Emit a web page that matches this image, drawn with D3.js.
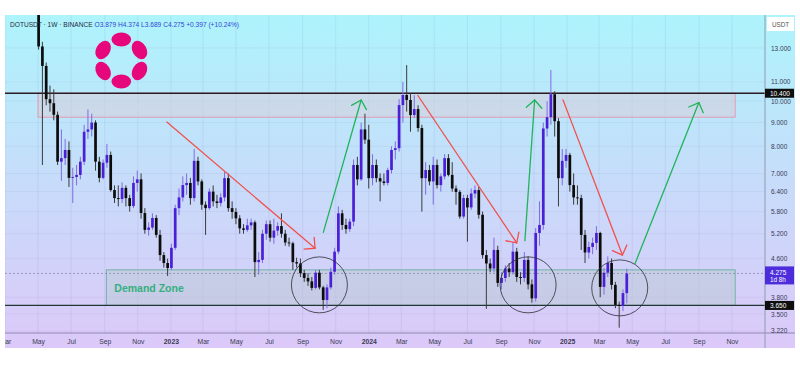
<!DOCTYPE html>
<html>
<head>
<meta charset="utf-8">
<script src="https://cdn.jsdelivr.net/npm/d3@7"></script>
<style>
  html, body { margin: 0; padding: 0; background: #fff; }
  svg { display: block; font-family: "Liberation Sans", Arial, sans-serif; }
</style>
</head>
<body>
<script>
// weekly DOTUSDT candles, first row = week of 2022-05-02
// each row: [open, high, low, close]
var firstWeek = "2022-05-02";
var candles = [
  [15.9, 16.4, 12.9, 13.1], [13.1, 13.4, 7.3, 11.9], [11.9, 12.1, 9.8, 10.1], [10.1, 10.8, 9.5, 9.9],
  [9.9, 10.6, 9.1, 9.35], [9.35, 9.5, 7.3, 7.42], [7.42, 8.7, 6.75, 7.55], [7.55, 8.3, 7.3, 7.86],
  [7.86, 8.2, 6.55, 6.85], [6.85, 7.2, 6.05, 6.88], [6.88, 7.3, 6.6, 6.95], [6.95, 7.6, 6.8, 7.42],
  [7.42, 8.9, 7.3, 8.6], [8.6, 9.6, 8.3, 8.7], [8.7, 9.4, 8.4, 9.0], [9.0, 9.1, 7.1, 7.42],
  [7.42, 7.6, 6.7, 6.85], [6.85, 7.5, 6.8, 7.38], [7.38, 8.1, 7.2, 7.67], [7.67, 7.8, 6.4, 6.45],
  [6.45, 6.6, 6.05, 6.2], [6.2, 6.6, 5.95, 6.17], [6.17, 6.7, 6.05, 6.52], [6.52, 6.6, 5.95, 6.2],
  [6.2, 6.3, 5.8, 5.96], [5.96, 6.9, 5.9, 6.68], [6.68, 7.1, 6.4, 6.8], [6.8, 7.0, 5.6, 5.76],
  [5.76, 5.9, 5.2, 5.3], [5.3, 5.5, 5.15, 5.36], [5.36, 5.75, 5.3, 5.62], [5.62, 5.7, 5.1, 5.17],
  [5.17, 5.3, 4.55, 4.68], [4.68, 4.75, 4.4, 4.5], [4.5, 4.6, 4.22, 4.39], [4.39, 4.95, 4.35, 4.85],
  [4.85, 6.0, 4.8, 5.9], [5.9, 6.5, 5.7, 6.22], [6.22, 6.9, 6.1, 6.61], [6.61, 7.0, 6.3, 6.68],
  [6.68, 6.85, 6.0, 6.2], [6.2, 7.9, 6.1, 7.45], [7.45, 7.6, 6.6, 6.73], [6.73, 6.8, 5.85, 6.0],
  [6.0, 6.1, 5.17, 5.9], [5.9, 6.5, 5.85, 6.4], [6.4, 6.6, 5.95, 6.1], [6.1, 6.3, 5.9, 6.05],
  [6.05, 6.35, 5.95, 6.22], [6.22, 7.05, 6.1, 6.84], [6.84, 7.0, 5.8, 5.9], [5.9, 6.1, 5.6, 5.79],
  [5.79, 5.9, 5.45, 5.61], [5.61, 5.7, 5.2, 5.34], [5.34, 5.45, 5.2, 5.3], [5.3, 5.6, 5.25, 5.42],
  [5.42, 5.6, 5.3, 5.5], [5.5, 5.55, 4.2, 4.52], [4.52, 4.75, 4.25, 4.57], [4.57, 5.3, 4.5, 5.2],
  [5.2, 5.55, 5.05, 5.45], [5.45, 5.55, 5.0, 5.1], [5.1, 5.6, 4.95, 5.28], [5.28, 5.5, 5.15, 5.4],
  [5.4, 5.75, 5.1, 5.2], [5.2, 5.3, 4.9, 4.98], [4.98, 5.1, 4.88, 4.96], [4.96, 5.0, 4.35, 4.52],
  [4.52, 4.62, 4.4, 4.49], [4.49, 4.6, 4.2, 4.28], [4.28, 4.35, 4.1, 4.18], [4.18, 4.28, 4.02, 4.11],
  [4.11, 4.2, 3.93, 3.98], [3.98, 4.35, 3.95, 4.29], [4.29, 4.35, 3.95, 3.99], [3.99, 4.02, 3.57, 3.75],
  [3.75, 4.05, 3.6, 3.99], [3.99, 4.4, 3.95, 4.31], [4.31, 4.85, 4.25, 4.76], [4.76, 5.95, 4.7, 5.75],
  [5.75, 5.85, 5.3, 5.43], [5.43, 5.6, 5.2, 5.32], [5.32, 5.6, 5.25, 5.52], [5.52, 7.5, 5.4, 7.3],
  [7.3, 7.6, 6.6, 6.8], [6.8, 9.0, 6.75, 8.7], [8.7, 9.4, 8.1, 8.27], [8.27, 8.9, 6.5, 6.84],
  [6.84, 7.7, 6.6, 7.3], [7.3, 7.5, 6.7, 6.84], [6.84, 7.0, 6.1, 6.73], [6.73, 7.0, 6.6, 6.68],
  [6.68, 7.2, 6.6, 7.12], [7.12, 8.0, 7.0, 7.86], [7.86, 8.2, 7.5, 7.93], [7.93, 10.1, 7.8, 9.81],
  [9.81, 11.0, 9.0, 10.31], [10.31, 11.95, 9.5, 10.06], [10.06, 10.4, 8.6, 9.34], [9.34, 10.3, 9.2, 9.62],
  [9.62, 9.8, 8.6, 8.76], [8.76, 8.9, 5.8, 6.84], [6.84, 7.4, 6.3, 7.12], [7.12, 7.3, 6.6, 6.73],
  [6.73, 7.6, 6.0, 7.3], [7.3, 7.5, 6.5, 6.61], [6.61, 7.0, 6.4, 6.9], [6.9, 7.7, 6.8, 7.55],
  [7.55, 7.7, 6.9, 6.95], [6.95, 7.4, 6.4, 6.5], [6.5, 6.6, 6.0, 6.39], [6.39, 6.45, 5.6, 5.66],
  [5.66, 6.3, 5.6, 6.2], [6.2, 6.3, 5.0, 5.92], [5.92, 6.5, 5.85, 6.34], [6.34, 6.6, 6.2, 6.45],
  [6.45, 6.55, 5.6, 5.71], [5.71, 5.8, 4.6, 4.68], [4.68, 4.8, 3.59, 4.49], [4.49, 4.6, 4.3, 4.38],
  [4.38, 5.1, 4.3, 4.8], [4.8, 4.9, 4.0, 4.08], [4.08, 4.3, 3.95, 4.18], [4.18, 4.45, 4.1, 4.38],
  [4.38, 4.5, 4.2, 4.3], [4.3, 4.99, 4.25, 4.76], [4.76, 4.85, 4.1, 4.2], [4.2, 4.3, 4.05, 4.18],
  [4.18, 4.75, 4.1, 4.57], [4.57, 4.65, 3.95, 4.05], [4.05, 4.15, 3.7, 3.78], [3.78, 5.35, 3.72, 5.22],
  [5.22, 6.1, 4.9, 5.43], [5.43, 9.0, 5.3, 8.74], [8.74, 10.0, 8.4, 9.24], [9.24, 11.66, 8.9, 10.35],
  [10.35, 10.5, 8.4, 9.06], [9.06, 9.2, 5.95, 6.84], [6.84, 7.9, 6.6, 7.45], [7.45, 7.9, 7.2, 7.67],
  [7.67, 7.75, 6.4, 6.61], [6.61, 7.0, 6.0, 6.22], [6.22, 6.6, 6.0, 6.2], [6.2, 6.3, 4.8, 5.17],
  [5.17, 5.3, 4.5, 4.74], [4.74, 5.0, 4.6, 4.87], [4.87, 5.1, 4.7, 4.97], [4.97, 5.4, 4.8, 5.22],
  [5.22, 5.25, 3.8, 4.0], [4.0, 4.4, 3.85, 4.29], [4.29, 4.65, 4.2, 4.5], [4.5, 4.6, 3.95, 4.04],
  [4.04, 4.1, 3.6, 3.66], [3.66, 3.72, 3.27, 3.64], [3.64, 3.95, 3.55, 3.879], [3.879, 4.374, 3.689, 4.275]
];

var priceTicks = [13, 11, 10, 9, 8, 7, 6.4, 5.8, 5.2, 4.6, 3.8, 3.5, 3.22];
var levelLines = [10.4, 3.65];
var lastPrice = 4.275;
// [from, to, top, bottom]
var supplyZone = ["2022-05-01", "2025-11-07", 10.4, 9.24];
var demandZone = ["2022-09-04", "2025-11-07", 4.35, 3.65];
// [[date, price] start, [date, price] end]
var redArrows = [
  [["2022-12-24", 9.03], ["2023-09-24", 4.84]],
  [["2024-03-31", 10.31], ["2024-09-30", 4.97]],
  [["2024-12-24", 10.09], ["2025-04-13", 4.68]]
];
var greenArrows = [
  [["2023-10-09", 5.22], ["2023-12-18", 10.06]],
  [["2024-10-15", 5.01], ["2024-11-02", 10.06]],
  [["2025-05-06", 4.48], ["2025-09-01", 9.93]]
];
var circleMarks = [["2023-10-02", 4.04], ["2024-10-21", 4.04], ["2025-04-08", 3.98]];
var headerParts = [["O", "3.879"], ["H", "4.374"], ["L", "3.689"], ["C", "4.275"]];

var W = 800, H = 368,
  plotL = 5, plotR = 765, plotT = 15, plotB = 333,
  axisR = 795, axisB = 348;

var parse = d3.utcParse("%Y-%m-%d");

var x = d3.scaleUtc()
  .domain([parse("2022-03-01"), parse("2026-01-01")])
  .range([plotL, plotR]);
var y = d3.scaleLog()
  .domain([3.186, 15.30])
  .range([plotB, plotT]);

var svg = d3.select("body").append("svg")
  .attr("width", W)
  .attr("height", H);

var defs = svg.append("defs");
var grad = defs.append("linearGradient")
  .attr("id", "bg").attr("x1", 0).attr("y1", 0).attr("x2", 0).attr("y2", 1);
grad.append("stop").attr("offset", "0%").attr("stop-color", "#adf4fc");
grad.append("stop").attr("offset", "50%").attr("stop-color", "#c7dcfa");
grad.append("stop").attr("offset", "100%").attr("stop-color", "#dcc9f9");

defs.append("clipPath").attr("id", "plot")
  .append("rect").attr("x", plotL).attr("y", plotT)
  .attr("width", plotR - plotL).attr("height", plotB - plotT);
defs.append("clipPath").attr("id", "xlabclip")
  .append("rect").attr("x", plotL).attr("y", 0)
  .attr("width", plotR - plotL).attr("height", axisB - plotB);

// background
svg.append("rect")
  .attr("x", plotL).attr("y", plotT)
  .attr("width", axisR - plotL).attr("height", axisB - plotT)
  .attr("fill", "url(#bg)");

var monthTicks = d3.utcMonth.every(2).range(parse("2022-03-01"), parse("2026-01-01"));

// faint grid
var grid = svg.append("g").attr("clip-path", "url(#plot)");
grid.selectAll(".vg").data(monthTicks).enter().append("line")
  .attr("x1", d => x(d)).attr("x2", d => x(d))
  .attr("y1", plotT).attr("y2", plotB)
  .attr("stroke", "rgba(110,100,170,0.10)");
grid.selectAll(".hg").data(priceTicks).enter().append("line")
  .attr("x1", plotL).attr("x2", plotR)
  .attr("y1", d => y(d)).attr("y2", d => y(d))
  .attr("stroke", "rgba(110,100,170,0.08)");

// zones
var plot = svg.append("g").attr("clip-path", "url(#plot)");
plot.append("rect")
  .attr("x", x(parse(supplyZone[0])))
  .attr("y", y(supplyZone[2]))
  .attr("width", x(parse(supplyZone[1])) - x(parse(supplyZone[0])))
  .attr("height", y(supplyZone[3]) - y(supplyZone[2]))
  .attr("fill", "rgba(215,205,218,0.55)")
  .attr("stroke", "#e39ab3")
  .attr("stroke-width", 1);
plot.append("rect")
  .attr("x", x(parse(demandZone[0])))
  .attr("y", y(demandZone[2]))
  .attr("width", x(parse(demandZone[1])) - x(parse(demandZone[0])))
  .attr("height", y(demandZone[3]) - y(demandZone[2]))
  .attr("fill", "rgba(180,200,205,0.42)")
  .attr("stroke", "#6fb3a6")
  .attr("stroke-width", 1);

// current price dashed line
plot.append("line")
  .attr("x1", plotL).attr("x2", plotR)
  .attr("y1", y(lastPrice)).attr("y2", y(lastPrice))
  .attr("stroke", "#8a8aa6").attr("stroke-width", 0.8)
  .attr("stroke-dasharray", "2,2");

// horizontal levels
plot.selectAll(".level").data(levelLines).enter().append("line")
  .attr("x1", plotL).attr("x2", plotR)
  .attr("y1", d => y(d)).attr("y2", d => y(d))
  .attr("stroke", (d, i) => i === 0 ? "#2a1a22" : "#1f3833")
  .attr("stroke-width", 1.3);

// header legend (drawn under the candles)
var header = svg.append("text")
  .attr("x", 10).attr("y", 27)
  .style("font-size", "6.6px");
header.append("tspan").attr("fill", "#1f2a3d").text("DOTUSDT · 1W · BINANCE ");
headerParts.forEach(p => {
  header.append("tspan").attr("fill", "#2e3fc9").text(" " + p[0]);
  header.append("tspan").attr("fill", "#3346d6").text(p[1]);
});
header.append("tspan").attr("fill", "#3346d6").text("  +0.397 (+10.24%)");

// candles
var bw = 2.7;
var rows = candles.map((c, i) => ({
  date: d3.utcDay.offset(parse(firstWeek), 7 * i),
  o: c[0], h: c[1], l: c[2], c: c[3]
}));
var cg = plot.append("g");
cg.selectAll(".wick").data(rows).enter().append("line")
  .attr("x1", d => x(d.date)).attr("x2", d => x(d.date))
  .attr("y1", d => y(d.h)).attr("y2", d => y(d.l))
  .attr("stroke", d => d.c >= d.o ? "#7f6be6" : "#3a3a3a")
  .attr("stroke-width", 1);
cg.selectAll(".body").data(rows).enter().append("rect")
  .attr("x", d => x(d.date) - bw / 2)
  .attr("y", d => y(Math.max(d.o, d.c)))
  .attr("width", bw)
  .attr("height", d => Math.max(0.9, Math.abs(y(d.o) - y(d.c))))
  .attr("fill", d => d.c >= d.o ? "#4a1fd8" : "#0c0c0c");

// arrows
function drawArrow(g, a, color) {
  var x1 = x(parse(a[0][0])), y1 = y(a[0][1]);
  var x2 = x(parse(a[1][0])), y2 = y(a[1][1]);
  var ang = Math.atan2(y1 - y2, x1 - x2);
  var len = 11, spread = Math.PI / 4;
  g.append("line")
    .attr("x1", x1).attr("y1", y1).attr("x2", x2).attr("y2", y2)
    .attr("stroke", color).attr("stroke-width", 1.3);
  [-spread, spread].forEach(s => {
    g.append("line")
      .attr("x1", x2).attr("y1", y2)
      .attr("x2", x2 + len * Math.cos(ang + s))
      .attr("y2", y2 + len * Math.sin(ang + s))
      .attr("stroke", color).attr("stroke-width", 1.3)
      .attr("stroke-linecap", "round");
  });
}
var ag = svg.append("g");
redArrows.forEach(a => drawArrow(ag, a, "#f24f4c"));
greenArrows.forEach(a => drawArrow(ag, a, "#1fb45c"));

ag.selectAll(".circ").data(circleMarks).enter().append("circle")
  .attr("cx", d => x(parse(d[0])))
  .attr("cy", d => y(d[1]))
  .attr("r", 28)
  .attr("fill", "none")
  .attr("stroke", "#2c2c34")
  .attr("stroke-width", 0.8);

// Demand Zone label
svg.append("text")
  .attr("x", x(parse(demandZone[0])) + 8)
  .attr("y", (y(demandZone[2]) + y(demandZone[3])) / 2 + 4)
  .attr("fill", "#33b07e")
  .style("font-size", "10.5px")
  .style("font-weight", "bold")
  .text("Demand Zone");

// polkadot logo
var logo = svg.append("g").attr("transform", "translate(121.3,60.5)");
[90, 30, -30, -90, -150, 150].forEach(a => {
  var r = a * Math.PI / 180;
  var cx = 21 * Math.cos(r), cy = -21 * Math.sin(r);
  logo.append("ellipse")
    .attr("cx", cx).attr("cy", cy)
    .attr("rx", 9.8).attr("ry", 7)
    .attr("transform", "rotate(" + (90 - a) + "," + cx + "," + cy + ")")
    .attr("fill", "#e6077c");
});

// x axis
svg.append("line")
  .attr("x1", plotL).attr("x2", axisR)
  .attr("y1", plotB).attr("y2", plotB)
  .attr("stroke", "#8f86b0").attr("stroke-width", 1);
var xAxis = d3.axisBottom(x)
  .tickValues(monthTicks)
  .tickSize(0)
  .tickPadding(6)
  .tickFormat(d => d.getUTCMonth() === 0 ? d3.utcFormat("%Y")(d) : d3.utcFormat("%b")(d));
var xg = svg.append("g")
  .attr("transform", `translate(0, ${plotB})`)
  .attr("clip-path", "url(#xlabclip)")
  .call(xAxis);
xg.select(".domain").remove();
xg.selectAll("text")
  .attr("fill", "#3a3a55")
  .style("font-size", "6.8px")
  .style("font-family", "Liberation Sans, Arial, sans-serif")
  .style("font-weight", d => d.getUTCMonth() === 0 ? "bold" : "normal");

// price axis
svg.append("line")
  .attr("x1", plotR).attr("x2", plotR)
  .attr("y1", plotT).attr("y2", axisB)
  .attr("stroke", "#8f9bb0").attr("stroke-width", 1);
var yAxis = d3.axisRight(y)
  .tickValues(priceTicks)
  .tickSize(0)
  .tickPadding(6)
  .tickFormat(d3.format(".3f"));
var yg = svg.append("g")
  .attr("transform", `translate(${plotR}, 0)`)
  .call(yAxis);
yg.select(".domain").remove();
yg.selectAll("text")
  .attr("fill", "#3a3a55")
  .style("font-size", "6.5px")
  .style("font-family", "Liberation Sans, Arial, sans-serif");

// currency box
svg.append("rect").attr("x", 767).attr("y", 17).attr("width", 27).attr("height", 14)
  .attr("fill", "#fff");
svg.append("text").attr("x", 780.5).attr("y", 26.5).attr("text-anchor", "middle")
  .attr("fill", "#555").style("font-size", "6.3px").text("USDT");

// level price boxes
levelLines.forEach(v => {
  svg.append("rect").attr("x", plotR).attr("y", y(v) - 4.5)
    .attr("width", 29).attr("height", 9).attr("fill", "#0e0e0e");
  svg.append("text").attr("x", plotR + 5).attr("y", y(v) + 2.4)
    .attr("fill", "#fff").style("font-size", "6.5px")
    .text(d3.format(".3f")(v));
});

// last price box
svg.append("rect").attr("x", plotR).attr("y", y(lastPrice) - 7)
  .attr("width", 29).attr("height", 18).attr("fill", "#4d2ddb");
svg.append("text").attr("x", plotR + 5).attr("y", y(lastPrice) + 1.2)
  .attr("fill", "#fff").style("font-size", "6.5px")
  .text(d3.format(".3f")(lastPrice));
svg.append("text").attr("x", plotR + 5).attr("y", y(lastPrice) + 8.8)
  .attr("fill", "#fff").style("font-size", "6.3px")
  .text("1d 8h");
</script>
</body>
</html>
